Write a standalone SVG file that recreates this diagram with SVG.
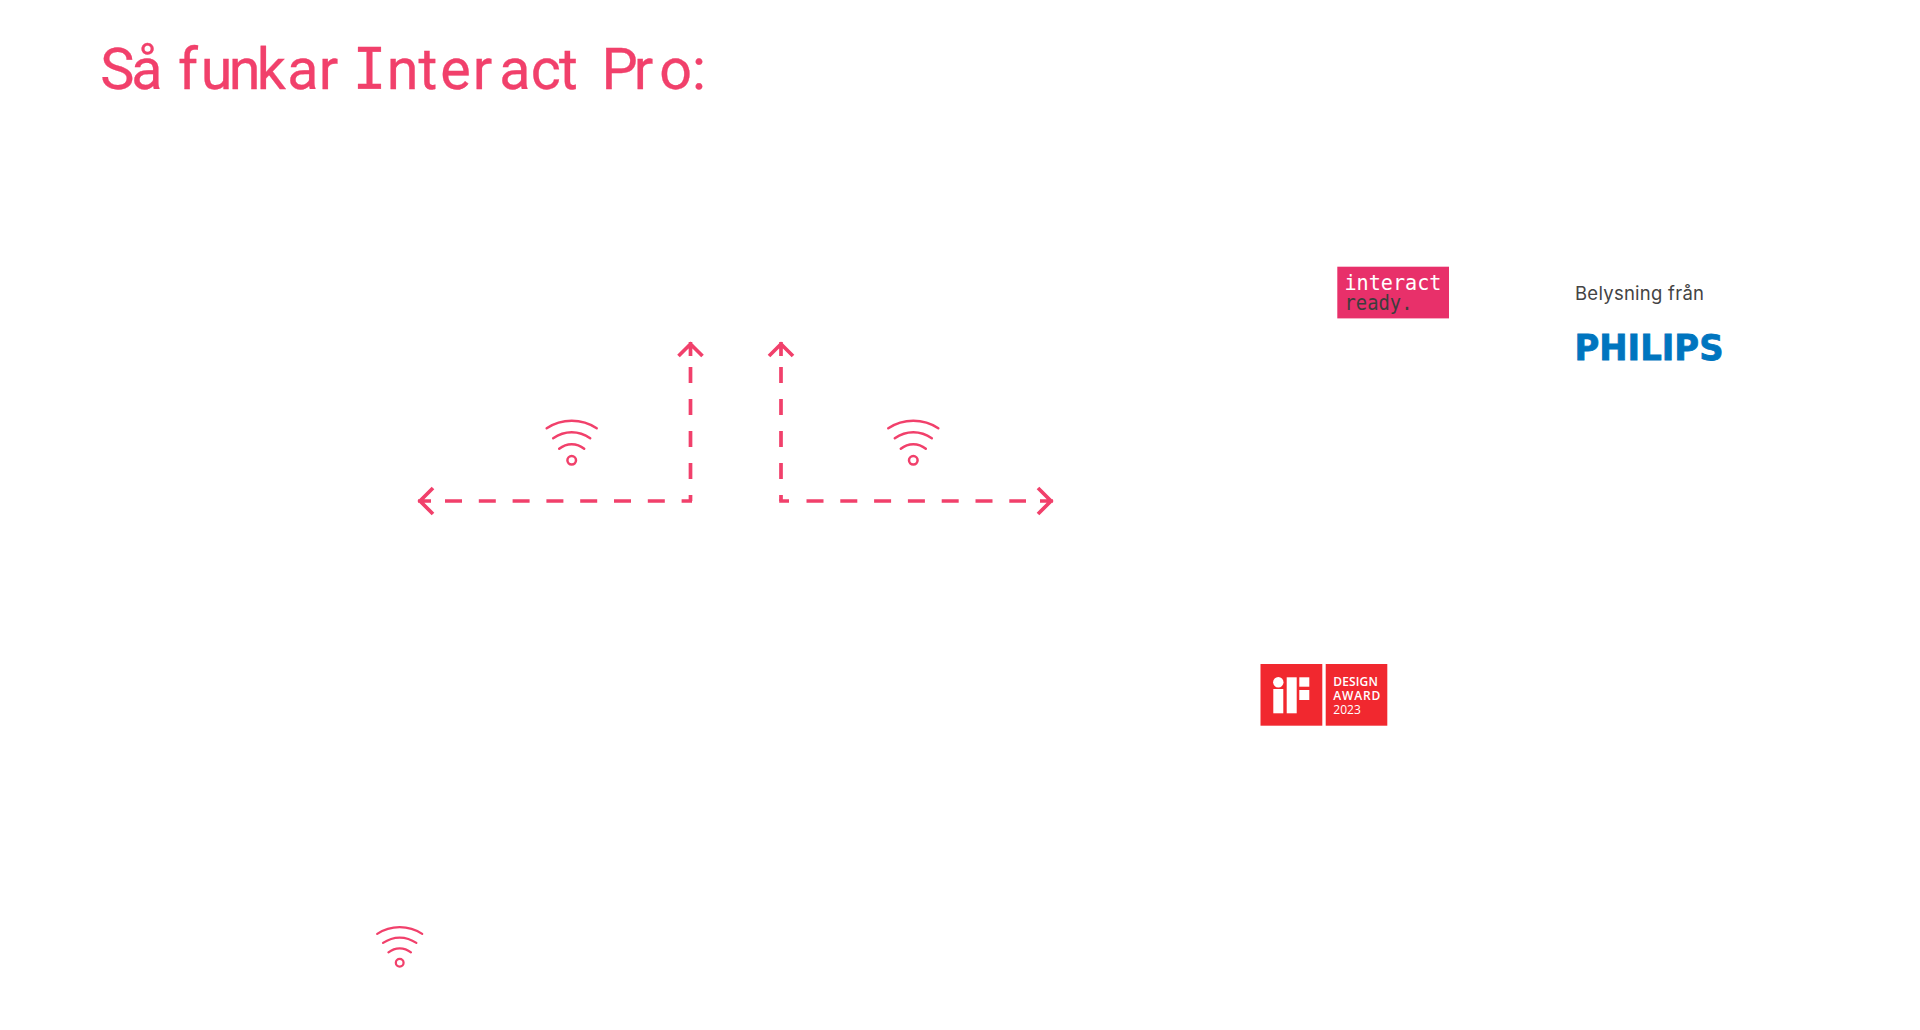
<svg xmlns="http://www.w3.org/2000/svg" width="1920" height="1030" viewBox="0 0 1920 1030">
<style>
.arrow{fill:none;stroke:#f1406b;stroke-width:3.700}
.dash{stroke-dasharray:17 16.800}
.vdash{stroke-dasharray:16 16}
.wifi{fill:none;stroke:#f1406b;stroke-width:2.500;stroke-linecap:round}
</style>
<defs>
<g id="wifi-icon">
<path d="M-25,-32C-10,-42 10,-42 25,-32M-18.500,-22C-7,-30 7,-30 18.500,-22M-12.500,-11.500C-5,-17.500 5,-17.500 12.500,-11.500"/>
<circle cx="0" cy="0" r="4.300"/>
</g>
</defs>
<rect width="1920" height="1030" fill="#fff"/>
<text id="title" y="89" font-family="Roboto,sans-serif" font-size="57.500" fill="#f1406b" stroke="#f1406b" stroke-width=".3" x="100.300 131.300 165 178 200.800 228.800 256.800 287.300 318.700 338 352.500 386.700 418.500 440.300 472.800 499.300 530.700 559 595 601.500 633.800 659.300 692">Så funkar <tspan font-family="'DejaVu Sans Mono',monospace" font-size="56.500">I</tspan>nteract Pro:</text>
<g id="connectors">
<path class="arrow" d="M690.500,342V356M678.500,356L690.500,344L702.500,356"/>
<path class="arrow vdash" d="M690.500,367V501"/>
<path class="arrow dash" d="M445,501H692" />
<path class="arrow" d="M418,501H431M433,488L420,501L433,514"/>
<path class="arrow" d="M781,342V356M769,356L781,344L793,356"/>
<path class="arrow vdash" d="M781,367V501"/>
<path class="arrow dash" d="M779.200,501H789M806.500,501H1026"/>
<path class="arrow" d="M1053,501H1040M1038,488L1051,501L1038,514"/>
</g>
<g id="wifi-left" class="wifi" transform="translate(571.700,460.300)"><use href="#wifi-icon"/></g>
<g id="wifi-right" class="wifi" transform="translate(913.300,460.300)"><use href="#wifi-icon"/></g>
<g id="wifi-bottom" class="wifi" transform="translate(399.700,962.700) scale(.9)"><use href="#wifi-icon"/></g>
<g id="interact-ready">
<rect x="1337.300" y="266.700" width="111.700" height="51.700" fill="#e8306a"/>
<text x="1344.500" y="289.500" font-family="'DejaVu Sans Mono',monospace" font-size="21" fill="#fff" textLength="97" lengthAdjust="spacingAndGlyphs">interact</text>
<text x="1344.500" y="310" font-family="'DejaVu Sans Mono',monospace" font-size="21" fill="#3d3d3d" textLength="68" lengthAdjust="spacingAndGlyphs">ready.</text>
</g>
<g id="philips">
<text x="1575" y="300" font-family="Inter,'Noto Sans',sans-serif" font-size="18.500" fill="#444" textLength="129">Belysning från</text>
<text x="1574.500" y="360" font-family="'DejaVu Sans',sans-serif" font-weight="700" font-size="35.500" fill="#0075bf" stroke="#0075bf" stroke-width=".8" textLength="149" lengthAdjust="spacingAndGlyphs">PHILIPS</text>
</g>
<g id="if-award">
<rect x="1260.500" y="664" width="61.800" height="61.700" fill="#f1282f"/>
<rect x="1325.700" y="664" width="61.600" height="61.700" fill="#f1282f"/>
<g fill="#fff">
<circle cx="1278.300" cy="682.300" r="5.200"/>
<rect x="1273.300" y="689" width="10" height="24.300"/>
<rect x="1286.700" y="677.300" width="10" height="36"/>
<rect x="1299.300" y="677.300" width="10" height="9.400"/>
<rect x="1299.300" y="690" width="10" height="10"/>
<g font-family="'Open Sans',sans-serif" font-size="12">
<text x="1333.300" y="686" font-weight="600" textLength="44.500">DESIGN</text>
<text x="1333.300" y="699.500" font-weight="600" textLength="47">AWARD</text>
<text x="1333.300" y="713.700" textLength="27.500">2023</text>
</g>
</g>
</g>
</svg>
